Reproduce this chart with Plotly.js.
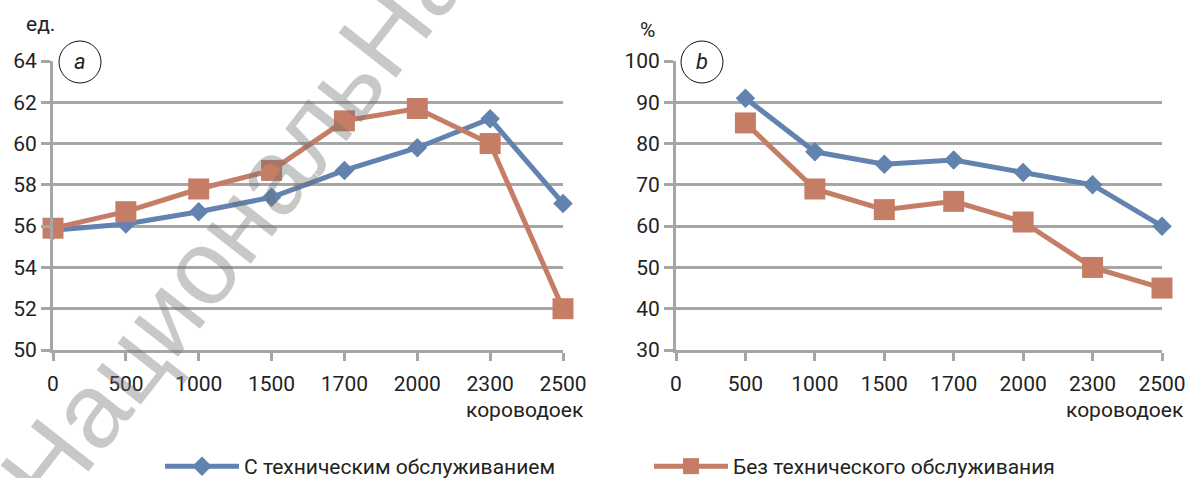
<!DOCTYPE html>
<html>
<head>
<meta charset="utf-8">
<script src="https://cdn.plot.ly/plotly-3.0.1.min.js"></script>
<style>html,body{margin:0;padding:0;background:#fff;}#chart{width:1187px;height:478px;}</style>
</head>
<body>
<div id="chart"></div>
<script>
// ---- data ----
var categories = ['0', '500', '1000', '1500', '1700', '2000', '2300', '2500'];
var leftWithService    = [55.8, 56.1, 56.7, 57.4, 58.7, 59.8, 61.2, 57.1];
var leftWithoutService = [55.9, 56.7, 57.8, 58.7, 61.1, 61.7, 60.0, 52.0];
var rightWithService    = [null, 91, 78, 75, 76, 73, 70, 60];
var rightWithoutService = [null, 85, 69, 64, 66, 61, 50, 45];
var seriesNames = ['С техническим обслуживанием', 'Без технического обслуживания'];
var leftUnit = 'ед.';
var rightUnit = '%';
var xUnit = 'короводоек';

// ---- styles ----
var W = 1187, H = 478;
var blue = '#6282AF', orange = '#C57D66';
var grid = '#A6A6A6';
var txt = '#222222';
var FONT = 'Roboto, "Liberation Sans", Arial, sans-serif';
function px(x){ return x / W; }
function py(y){ return 1 - y / H; }

var blueStyle = {color: blue, width: 5};
var orangeStyle = {color: orange, width: 5};
var blueMarker = {symbol: 'diamond', size: 15, color: blue};
var orangeMarker = {symbol: 'square', size: 21, color: orange};

var traces = [
  {x: categories, y: leftWithService, xaxis: 'x', yaxis: 'y', type: 'scatter', mode: 'lines+markers',
   name: seriesNames[0], line: blueStyle, marker: blueMarker, cliponaxis: false, legendgroup: 'a'},
  {x: categories, y: leftWithoutService, xaxis: 'x', yaxis: 'y', type: 'scatter', mode: 'lines+markers',
   name: seriesNames[1], line: orangeStyle, marker: orangeMarker, cliponaxis: false, legendgroup: 'b'},
  {x: categories, y: rightWithService, xaxis: 'x2', yaxis: 'y2', type: 'scatter', mode: 'lines+markers',
   name: seriesNames[0], line: blueStyle, marker: blueMarker, cliponaxis: false, showlegend: false, legendgroup: 'a'},
  {x: categories, y: rightWithoutService, xaxis: 'x2', yaxis: 'y2', type: 'scatter', mode: 'lines+markers',
   name: seriesNames[1], line: orangeStyle, marker: orangeMarker, cliponaxis: false, showlegend: false, legendgroup: 'b'}
];

var yDomain = [py(350), py(61)];
function xAxis(domain, anchor){
  return {domain: domain, anchor: anchor, type: 'category', categoryorder: 'array', categoryarray: categories,
    range: [0, categories.length - 1], showgrid: false, zeroline: false,
    showline: true, linecolor: grid, linewidth: 3,
    ticks: 'outside', ticklen: 8, tickwidth: 3, tickcolor: grid, ticklabelstandoff: 5,
    tickfont: {family: FONT, size: 21, color: txt}, fixedrange: true};
}
function yAxis(range, dtick, anchor){
  return {domain: yDomain, anchor: anchor, range: range, dtick: dtick, tick0: range[0],
    showgrid: true, gridcolor: grid, gridwidth: 3, zeroline: false,
    showline: true, linecolor: grid, linewidth: 3,
    ticks: 'outside', ticklen: 9, tickwidth: 3, tickcolor: grid,
    tickfont: {family: FONT, size: 21, color: txt}, fixedrange: true};
}

var annFont = {family: FONT, size: 21, color: txt};
function label(text, x, y, xanchor, font){
  return {text: text, xref: 'paper', yref: 'paper', x: px(x), y: py(y), xanchor: xanchor || 'center',
    yanchor: 'middle', showarrow: false, font: font || annFont};
}
var layout = {
  width: W, height: H,
  margin: {l: 0, r: 0, t: 0, b: 0, pad: 0, autoexpand: false},
  paper_bgcolor: '#fff', plot_bgcolor: '#fff',
  font: {family: FONT, size: 21, color: txt},
  showlegend: true,
  legend: {orientation: 'h', x: px(160), xanchor: 'left', y: py(446), yanchor: 'top',
    entrywidth: 400, entrywidthmode: 'pixels', itemwidth: 74,
    font: {family: FONT, size: 21, color: txt}, bgcolor: 'rgba(0,0,0,0)', traceorder: 'normal'},
  xaxis: xAxis([px(53), px(563)], 'y'),
  yaxis: yAxis([50, 64], 2, 'x'),
  xaxis2: xAxis([px(676), px(1162)], 'y2'),
  yaxis2: yAxis([30, 100], 10, 'x2'),
  shapes: [
    {type: 'circle', xref: 'paper', yref: 'paper', x0: px(59), x1: px(101), y0: py(83), y1: py(41),
     fillcolor: '#fff', line: {color: '#111', width: 1}, layer: 'above'},
    {type: 'circle', xref: 'paper', yref: 'paper', x0: px(681), x1: px(723), y0: py(83), y1: py(41),
     fillcolor: '#fff', line: {color: '#111', width: 1}, layer: 'above'}
  ],
  annotations: [
    label(leftUnit, 40, 24),
    label(rightUnit, 647, 30),
    label(xUnit, 586, 410, 'right'),
    label(xUnit, 1186, 410, 'right'),
    label('<i>a</i>', 80, 62, 'center', {family: FONT, size: 22, color: txt}),
    label('<i>b</i>', 702, 62, 'center', {family: FONT, size: 22, color: txt}),
    {text: 'НациональНая', xref: 'paper', yref: 'paper', x: px(252), y: py(202), xanchor: 'center', yanchor: 'middle',
     showarrow: false, textangle: -52,
     font: {family: '"Liberation Sans", Arial, sans-serif', size: 106, color: 'rgba(110,110,110,0.38)'}}
  ]
};

Plotly.newPlot('chart', traces, layout, {staticPlot: true, displayModeBar: false});
</script>
</body>
</html>
